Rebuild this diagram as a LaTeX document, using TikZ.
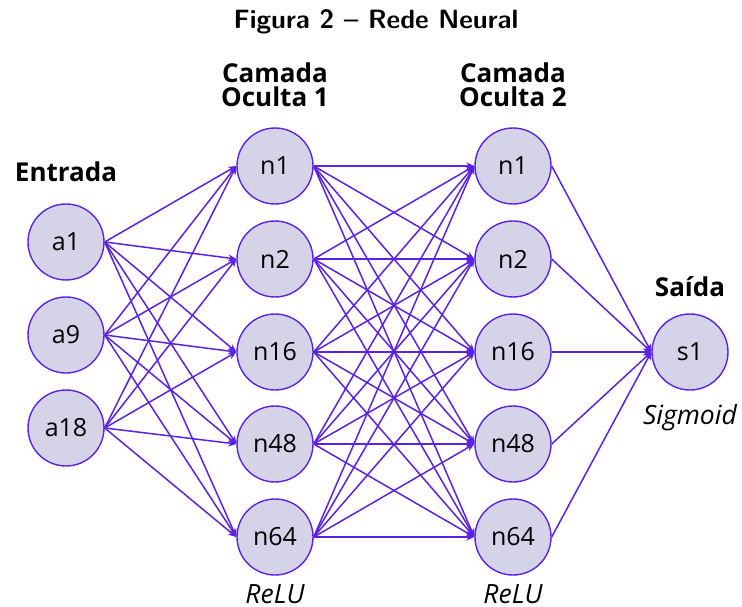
\documentclass[tikz,border=0pt]{standalone}
\usepackage{fontspec}
\setmainfont{Open Sans}
\usetikzlibrary{arrows.meta}
\definecolor{edgeviolet}{HTML}{5B21E6}
\definecolor{nodefill}{HTML}{D5D3E8}
\tikzset{
  neuron/.style={circle, draw=edgeviolet, fill=nodefill, line width=1.4pt,
    minimum size=76pt, inner sep=0pt, font=\fontsize{25}{25}\selectfont},
  link/.style={draw=edgeviolet, line width=1.5pt,
    -{Stealth[length=8pt,width=7pt]}},
  layertitle/.style={align=center, font=\fontsize{26}{24}\selectfont\bfseries},
  actfn/.style={font=\fontsize{26.5}{26.5}\selectfont\itshape},
}
\begin{document}
\begin{tikzpicture}[x=1pt, y=-1pt]
\useasboundingbox (0,0) rectangle (742,607);

% title
\node (title) at (376,22) {\sffamily\bfseries\fontsize{26.5}{26.5}\selectfont Figura 2 -- Rede Neural};

% layer headings
\node[layertitle] (hin) at (66,172) {Entrada};
\node[layertitle] (hl1) at (275,85) {Camada\\Oculta 1};
\node[layertitle] (hl2) at (513,85) {Camada\\Oculta 2};
\node[layertitle] (hout) at (690,287) {Saída};

% input layer
\node[neuron] (a1) at (66,242) {a1};
\node[neuron] (a9) at (66,335) {a9};
\node[neuron] (a18) at (66,428) {a18};

% hidden layer 1
\node[neuron] (p1) at (275,166) {n1};
\node[neuron] (p2) at (275,259) {n2};
\node[neuron] (p16) at (275,352) {n16};
\node[neuron] (p48) at (275,444) {n48};
\node[neuron] (p64) at (275,537) {n64};

% hidden layer 2
\node[neuron] (q1) at (513,166) {n1};
\node[neuron] (q2) at (513,259) {n2};
\node[neuron] (q16) at (513,352) {n16};
\node[neuron] (q48) at (513,444) {n48};
\node[neuron] (q64) at (513,537) {n64};

% output
\node[neuron] (s1) at (690,352) {s1};

% activation functions
\node[actfn, anchor=base, inner sep=0pt, text depth=0pt] (r1) at (275,603) {ReLU};
\node[actfn, anchor=base, inner sep=0pt, text depth=0pt] (r2) at (513,603) {ReLU};
\node[actfn] (sg) at (690,418) {Sigmoid};

% connections
\foreach \i in {a1,a9,a18}
  \foreach \j in {p1,p2,p16,p48,p64}
    \draw[link] (\i.east) -- (\j.west);
\foreach \i in {p1,p2,p16,p48,p64}
  \foreach \j in {q1,q2,q16,q48,q64}
    \draw[link] (\i.east) -- (\j.west);
\foreach \i in {q1,q2,q16,q48,q64}
  \draw[link] (\i.east) -- (s1.west);
\end{tikzpicture}
\end{document}
